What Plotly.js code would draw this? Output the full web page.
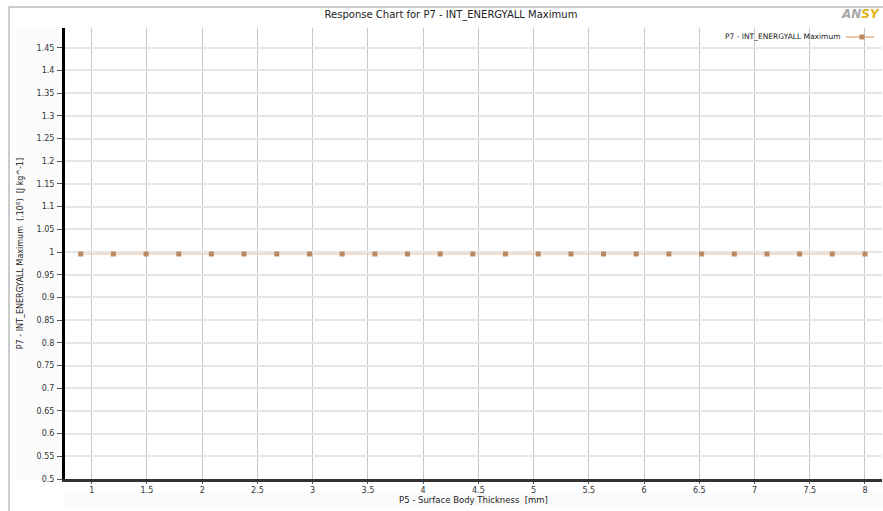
<!DOCTYPE html>
<html>
<head>
<meta charset="utf-8">
<script src="https://cdn.plot.ly/plotly-3.0.1.min.js"></script>
<style>
  html, body { margin: 0; padding: 0; background: #ffffff; }
  #chart { width: 883px; height: 511px; }
</style>
</head>
<body>
<div id="chart"></div>
<script>
// Surface body thickness design points [mm]
var thickness = [0.9, 1.196, 1.492, 1.788, 2.083, 2.379, 2.675, 2.971, 3.267, 3.563,
                 3.858, 4.154, 4.45, 4.746, 5.042, 5.338, 5.633, 5.929, 6.225, 6.521,
                 6.817, 7.113, 7.408, 7.704, 8.0];
// INT_ENERGYALL maximum response (x 10^6 J/kg)
var energyMax = [0.9956, 0.9956, 0.9956, 0.9956, 0.9956, 0.9956, 0.9956, 0.9956, 0.9956, 0.9956,
                 0.9956, 0.9956, 0.9956, 0.9956, 0.9956, 0.9956, 0.9956, 0.9956, 0.9956, 0.9956,
                 0.9956, 0.9956, 0.9956, 0.9956, 0.9956];
var xTicks = [1, 1.5, 2, 2.5, 3, 3.5, 4, 4.5, 5, 5.5, 6, 6.5, 7, 7.5, 8];
var yTicks = [0.5, 0.55, 0.6, 0.65, 0.7, 0.75, 0.8, 0.85, 0.9, 0.95, 1, 1.05, 1.1, 1.15,
              1.2, 1.25, 1.3, 1.35, 1.4, 1.45];
var seriesName = 'P7 - INT_ENERGYALL Maximum';

var FONT = 'DejaVu Sans, Verdana, sans-serif';
var W = 883, H = 511;
var L = 65, T = 28, R = 1, B = 32;
var pw = W - L - R, ph = H - T - B;
// pixel -> paper helpers for the frame decorations
function px(x) { return (x - L) / pw; }
function py(y) { return (H - B - y) / ph; }

var trace = {
  x: thickness,
  y: energyMax,
  type: 'scatter',
  mode: 'lines+markers',
  name: seriesName,
  line: { color: '#f0bb93', width: 1.2 },
  marker: { symbol: 'square', size: 5, color: '#b98a63', line: { width: 0 } },
  showlegend: false,
  hoverinfo: 'x+y'
};

var layout = {
  width: W, height: H,
  margin: { l: L, r: R, t: T, b: B, pad: 0 },
  paper_bgcolor: '#ffffff',
  plot_bgcolor: '#ffffff',
  font: { family: FONT, size: 8, color: '#333333' },
  title: {
    text: 'Response Chart for P7 - INT_ENERGYALL Maximum',
    font: { family: FONT, size: 10, color: '#222222' },
    xref: 'paper', x: px(451), xanchor: 'center',
    yref: 'container', y: 1 - 14 / H, yanchor: 'middle'
  },
  xaxis: {
    range: [0.758, 8.154],
    tickmode: 'array', tickvals: xTicks, ticktext: xTicks.map(String),
    ticks: 'outside', ticklen: 2, tickcolor: '#555555', tickwidth: 1,
    ticklabelstandoff: -1,
    tickfont: { family: FONT, size: 8, color: '#333333' },
    showgrid: true, gridcolor: '#c9c9c9', gridwidth: 1,
    showline: true, linecolor: '#333333', linewidth: 3,
    zeroline: false, fixedrange: true,
    title: { text: 'P5 - Surface Body Thickness  [mm]', font: { family: FONT, size: 8.5, color: '#222222' }, standoff: 3 }
  },
  yaxis: {
    range: [0.5, 1.4934],
    tickmode: 'array', tickvals: yTicks, ticktext: yTicks.map(String),
    ticks: 'outside', ticklen: 5, tickcolor: '#555555', tickwidth: 1,
    ticklabelstandoff: 1,
    tickfont: { family: FONT, size: 8, color: '#333333' },
    showgrid: true, gridcolor: '#e6e6e6', gridwidth: 2,
    showline: true, linecolor: '#000000', linewidth: 3,
    zeroline: false, fixedrange: true,
    title: { text: 'P7 - INT_ENERGYALL Maximum  (.10<sup>6</sup>)  [J kg^-1]', font: { family: FONT, size: 8, color: '#222222' }, standoff: 12 }
  },
  shapes: [
    // faint panels behind the tick label areas
    { type: 'rect', xref: 'paper', yref: 'paper', layer: 'below',
      x0: px(16), x1: px(63), y0: py(480), y1: py(29),
      fillcolor: '#fbfbfb', line: { width: 0 } },
    { type: 'rect', xref: 'paper', yref: 'paper', layer: 'below',
      x0: px(65), x1: px(883), y0: py(506), y1: py(492),
      fillcolor: '#fbfbfb', line: { width: 0 } },
    // outer chart frame
    { type: 'line', xref: 'paper', yref: 'paper', x0: px(9), x1: px(890), y0: py(7), y1: py(7),
      line: { color: '#999999', width: 1 } },
    { type: 'line', xref: 'paper', yref: 'paper', x0: px(9), x1: px(9), y0: py(7), y1: py(515),
      line: { color: '#999999', width: 1 } },
    // legend sample line and marker
    { type: 'line', xref: 'paper', yref: 'paper', x0: px(846), x1: px(874), y0: py(37), y1: py(37),
      line: { color: '#e8b089', width: 1.5 } },
    { type: 'rect', xref: 'paper', yref: 'paper', x0: px(859.5), x1: px(864.5), y0: py(39.5), y1: py(34.5),
      fillcolor: '#b98a63', line: { width: 0 } }
  ],
  annotations: [
    { text: seriesName, xref: 'paper', yref: 'paper', x: px(843), y: py(37),
      xanchor: 'right', yanchor: 'middle', showarrow: false,
      font: { family: FONT, size: 7.5, color: '#222222' } },
    { text: '<b><i><span style="color:#a8a8a8">AN</span><span style="color:#e3b514">SY</span></i></b>',
      xref: 'paper', yref: 'paper', x: px(882), y: py(14),
      xanchor: 'right', yanchor: 'middle', showarrow: false,
      font: { family: FONT, size: 12, color: '#a8a8a8' } }
  ]
};

Plotly.newPlot('chart', [trace], layout, { displayModeBar: false, staticPlot: true });
</script>
</body>
</html>
